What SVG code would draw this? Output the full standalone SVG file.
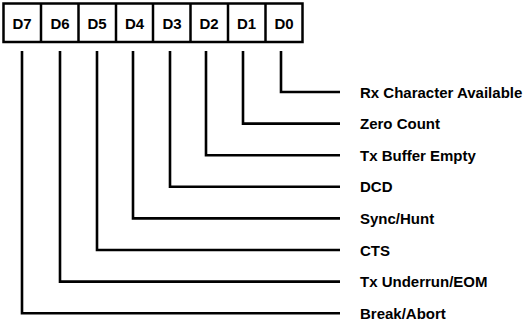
<svg xmlns="http://www.w3.org/2000/svg" width="529" height="325" viewBox="0 0 529 325">
<style>
.box{fill:#fff;stroke:#000;stroke-width:2.5}
.cell{font-family:"Liberation Sans",Arial,sans-serif;font-weight:bold;font-size:15px;text-anchor:middle;fill:#000}
.lbl{font-family:"Liberation Sans",Arial,sans-serif;font-weight:bold;font-size:15px;fill:#000}
.wire{fill:none;stroke:#000;stroke-width:2.6;stroke-linejoin:miter}
</style>
<rect width="529" height="325" fill="#fff"/>
<g id="register">
<rect class="box" x="3.5" y="3.5" width="299" height="38.5"/>
<g stroke="#000" stroke-width="2.5">
<line x1="41" y1="3.5" x2="41" y2="42"/>
<line x1="78.5" y1="3.5" x2="78.5" y2="42"/>
<line x1="116" y1="3.5" x2="116" y2="42"/>
<line x1="153" y1="3.5" x2="153" y2="42"/>
<line x1="190.5" y1="3.5" x2="190.5" y2="42"/>
<line x1="228" y1="3.5" x2="228" y2="42"/>
<line x1="265.5" y1="3.5" x2="265.5" y2="42"/>
</g>
<text class="cell" x="22" y="28.5">D7</text>
<text class="cell" x="60" y="28.5">D6</text>
<text class="cell" x="97" y="28.5">D5</text>
<text class="cell" x="134.5" y="28.5">D4</text>
<text class="cell" x="172" y="28.5">D3</text>
<text class="cell" x="209" y="28.5">D2</text>
<text class="cell" x="246.5" y="28.5">D1</text>
<text class="cell" x="284" y="28.5">D0</text>
</g>
<g id="connectors">
<polyline class="wire" points="281,51 281,92 340,92"/>
<polyline class="wire" points="243,51 243,123.6 340,123.6"/>
<polyline class="wire" points="206,51 206,155.2 340,155.2"/>
<polyline class="wire" points="170,51 170,186.8 340,186.8"/>
<polyline class="wire" points="133,51 133,218.4 340,218.4"/>
<polyline class="wire" points="97,51 97,250 340,250"/>
<polyline class="wire" points="60,51 60,281.6 340,281.6"/>
<polyline class="wire" points="22,51 22,313.2 340,313.2"/>
</g>
<g id="labels">
<text class="lbl" x="360" y="97.5">Rx Character Available</text>
<text class="lbl" x="360" y="129">Zero Count</text>
<text class="lbl" x="360" y="160.5">Tx Buffer Empty</text>
<text class="lbl" x="360" y="192">DCD</text>
<text class="lbl" x="360" y="223.5">Sync/Hunt</text>
<text class="lbl" x="360" y="255.5">CTS</text>
<text class="lbl" x="360" y="287">Tx Underrun/EOM</text>
<text class="lbl" x="360" y="318.5">Break/Abort</text>
</g>
</svg>
